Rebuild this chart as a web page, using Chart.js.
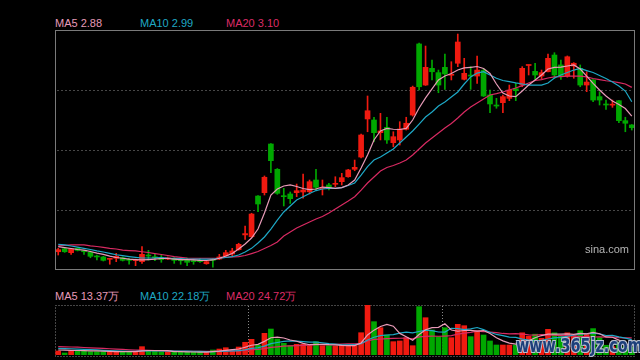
<!DOCTYPE html>
<html>
<head>
<meta charset="utf-8">
<script src="https://cdn.jsdelivr.net/npm/chart.js@4.4.1/dist/chart.umd.min.js"></script>
<style>
  body { margin: 0; background: #000; width: 640px; height: 360px; overflow: hidden; position: relative;
         font-family: Arial, "Liberation Sans", sans-serif; }
  .lg { position: absolute; font-size: 11px; white-space: nowrap; line-height: 12px; }
  #kbox { position: absolute; left: 55px; top: 30px; width: 580px; height: 240px; }
  #vbox { position: absolute; left: 55px; top: 305px; width: 580px; height: 52px; }
  #sina { position: absolute; left: 585px; top: 243px; font-size: 11px; color: #b4b4b4; }
  #wm { position: absolute; left: 516px; top: 333px; font: bold 20px "DejaVu Sans", sans-serif; color: #1d3f7a;
        text-shadow: -1px -1px 0 #b8c0d0, 1px -1px 0 #b8c0d0, -1px 1px 0 #b8c0d0, 1px 1px 0 #b8c0d0;
        transform-origin: 0 0; transform: scaleX(0.72); white-space: nowrap; }
</style>
</head>
<body>
<div class="lg" style="left:55px;top:17px;color:#e79ab8">MA5 2.88</div>
<div class="lg" style="left:140px;top:17px;color:#1fa8c4">MA10 2.99</div>
<div class="lg" style="left:226px;top:17px;color:#dc2c66">MA20 3.10</div>
<div class="lg" style="left:55px;top:290px;color:#e79ab8">MA5 13.37万</div>
<div class="lg" style="left:140px;top:290px;color:#1fa8c4">MA10 22.18万</div>
<div class="lg" style="left:226px;top:290px;color:#dc2c66">MA20 24.72万</div>
<div id="kbox"><canvas id="kline"></canvas></div>
<div id="vbox"><canvas id="vol"></canvas></div>
<div id="sina">sina.com</div>
<div id="wm">www.365jz.com</div>
<script>
// daily candles (price in yuan, volume in 万)
const openPrices = [1.840,1.863,1.833,1.866,1.842,1.836,1.805,1.800,1.782,1.790,
  1.794,1.776,1.772,1.764,1.809,1.796,1.794,1.784,1.790,1.772,
  1.774,1.765,1.774,1.748,1.776,1.784,1.807,1.823,1.856,1.969,
  1.955,2.267,2.293,2.666,2.472,2.264,2.283,2.293,2.298,2.300,
  2.390,2.324,2.352,2.357,2.377,2.415,2.472,2.566,2.858,2.850,
  2.753,2.794,2.676,2.697,2.779,2.888,3.433,3.118,3.246,3.213,
  3.254,3.193,3.285,3.162,3.189,3.187,3.230,3.042,2.958,2.983,
  3.016,3.090,3.118,3.268,3.223,3.187,3.220,3.348,3.272,3.187,
  3.264,3.246,3.118,3.157,3.029,2.966,2.964,2.998,2.845,2.812];
const closePrices = [1.856,1.840,1.863,1.851,1.840,1.805,1.800,1.774,1.786,1.805,
  1.774,1.774,1.776,1.820,1.807,1.794,1.779,1.794,1.774,1.771,
  1.759,1.764,1.764,1.764,1.774,1.800,1.833,1.846,1.897,1.979,
  2.129,2.206,2.411,2.538,2.288,2.262,2.247,2.308,2.313,2.377,
  2.334,2.326,2.326,2.359,2.408,2.467,2.487,2.735,2.921,2.753,
  2.766,2.697,2.722,2.781,2.825,3.101,3.105,3.254,3.220,3.118,
  3.203,3.195,3.448,3.208,3.187,3.233,3.034,2.973,2.957,3.029,
  3.080,3.075,3.246,3.270,3.195,3.213,3.323,3.195,3.187,3.335,
  3.285,3.118,3.141,3.003,3.003,2.965,2.966,2.845,2.825,2.791];
const highPrices = [1.866,1.866,1.866,1.870,1.851,1.846,1.815,1.805,1.790,1.828,
  1.800,1.790,1.784,1.879,1.851,1.820,1.815,1.800,1.794,1.790,
  1.792,1.782,1.790,1.771,1.790,1.820,1.851,1.866,1.905,2.037,
  2.135,2.270,2.421,2.670,2.478,2.326,2.298,2.359,2.436,2.390,
  2.472,2.390,2.365,2.415,2.441,2.472,2.543,2.743,3.034,2.871,
  2.901,2.871,2.760,2.837,2.871,3.110,3.440,3.417,3.310,3.233,
  3.356,3.297,3.509,3.323,3.259,3.341,3.245,3.080,3.016,3.042,
  3.118,3.131,3.259,3.272,3.285,3.233,3.356,3.366,3.310,3.341,
  3.290,3.272,3.220,3.160,3.067,3.003,3.003,3.000,2.871,2.815];
const lowPrices = [1.815,1.835,1.820,1.846,1.820,1.794,1.777,1.769,1.744,1.764,
  1.769,1.744,1.733,1.751,1.776,1.771,1.759,1.779,1.751,1.744,
  1.733,1.744,1.759,1.744,1.721,1.779,1.797,1.810,1.851,1.935,
  1.950,2.147,2.275,2.446,2.280,2.191,2.210,2.262,2.250,2.283,
  2.313,2.275,2.313,2.339,2.352,2.411,2.461,2.560,2.760,2.684,
  2.697,2.671,2.645,2.658,2.773,2.880,3.080,3.115,3.157,3.059,
  3.085,3.157,3.259,3.157,3.085,3.131,3.030,2.906,2.940,2.906,
  2.998,2.998,3.105,3.195,3.162,3.165,3.218,3.170,3.162,3.178,
  3.170,3.105,3.067,2.990,2.965,2.932,2.947,2.829,2.760,2.773];
const ma5 = [1.879,1.872,1.865,1.857,1.853,1.842,1.830,1.820,1.807,1.796,
  1.790,1.784,1.780,1.777,1.780,1.784,1.788,1.788,1.784,1.780,
  1.779,1.777,1.774,1.773,1.777,1.790,1.807,1.826,1.861,1.899,
  1.945,2.014,2.137,2.275,2.321,2.344,2.352,2.340,2.325,2.317,
  2.321,2.336,2.332,2.326,2.332,2.352,2.390,2.482,2.582,2.697,
  2.766,2.785,2.779,2.777,2.786,2.850,2.942,3.019,3.088,3.157,
  3.187,3.207,3.233,3.249,3.254,3.260,3.245,3.207,3.126,3.057,
  3.034,3.029,3.072,3.118,3.157,3.195,3.241,3.253,3.256,3.264,
  3.272,3.241,3.187,3.131,3.080,3.034,2.996,2.969,2.938,2.880];
const ma10 = [1.897,1.892,1.884,1.876,1.866,1.857,1.846,1.838,1.828,1.817,
  1.810,1.803,1.797,1.792,1.792,1.793,1.796,1.792,1.790,1.788,
  1.784,1.784,1.784,1.784,1.784,1.790,1.796,1.803,1.815,1.838,
  1.866,1.907,1.953,2.014,2.083,2.145,2.191,2.237,2.262,2.286,
  2.309,2.321,2.326,2.326,2.332,2.348,2.367,2.428,2.492,2.543,
  2.566,2.597,2.628,2.674,2.720,2.766,2.819,2.873,2.911,2.957,
  2.988,3.026,3.065,3.126,3.180,3.210,3.220,3.195,3.170,3.153,
  3.144,3.134,3.126,3.118,3.118,3.118,3.134,3.172,3.195,3.214,
  3.233,3.245,3.229,3.214,3.191,3.168,3.141,3.111,3.072,2.990];
const ma20 = [1.886,1.889,1.892,1.892,1.892,1.885,1.880,1.874,1.866,1.861,
  1.853,1.849,1.846,1.840,1.834,1.826,1.819,1.811,1.803,1.797,
  1.792,1.790,1.790,1.790,1.790,1.792,1.796,1.800,1.803,1.811,
  1.826,1.842,1.865,1.888,1.915,1.961,1.991,2.022,2.045,2.068,
  2.091,2.110,2.137,2.168,2.198,2.229,2.262,2.313,2.367,2.413,
  2.459,2.486,2.501,2.520,2.543,2.582,2.628,2.674,2.712,2.750,
  2.789,2.823,2.865,2.911,2.950,2.980,3.011,3.042,3.052,3.065,
  3.080,3.095,3.114,3.134,3.153,3.160,3.172,3.180,3.183,3.187,
  3.187,3.187,3.180,3.168,3.160,3.151,3.145,3.137,3.126,3.100];
const volumes = [5.8,2.9,5.8,5.8,5.8,4.8,4.8,4.8,4.8,4.8,
  4.8,4.8,4.8,12.0,5.8,5.8,4.8,4.8,4.8,4.8,
  3.9,3.9,3.9,4.3,7.2,8.6,10.5,7.2,11.5,18.3,
  22.6,14.4,31.2,37.4,23.0,16.8,13.4,15.4,15.4,13.4,
  19.2,13.4,13.4,13.0,14.0,13.4,13.4,32.1,72.0,48.0,
  39.3,28.8,19.2,20.2,24.9,13.4,69.6,53.7,36.0,26.4,
  39.3,24.9,44.2,42.2,26.4,34.6,28.8,20.2,14.4,14.4,
  14.4,14.4,32,27,30,24,37,32,27,32,
  28,35,30,38,25,14,12,18,12,11];
const volMa5 = [7.2,7.0,6.8,6.5,6.3,6.0,5.8,5.5,5.3,5.0,
  5.0,5.0,5.0,6.0,6.5,6.5,6.5,6.2,5.0,4.8,
  4.5,4.3,4.2,4.2,4.8,5.5,6.8,7.6,8.6,11.2,
  14.0,15.3,19.6,24.8,25.7,24.5,21.6,19.8,16.8,14.8,
  15.4,15.4,14.9,14.7,14.0,13.6,13.6,17.3,28.9,35.8,
  41.0,44.0,41.5,31.1,26.4,21.3,29.5,36.3,39.5,39.8,
  45.0,36.0,34.2,35.3,35.4,34.3,35.2,31.0,24.9,20.3,
  17.2,15.6,19.2,20.3,24.8,28.0,30.0,30.0,30.0,30.4,
  29.6,31.0,30.6,32.6,30.6,26.0,25.6,21.4,16.2,13.37];
const volMa10 = [9.6,9.3,9.0,8.6,8.2,7.8,7.3,6.8,6.3,6.0,
  5.6,5.4,5.2,5.8,5.8,5.8,5.8,5.8,5.7,5.6,
  5.5,5.4,5.3,5.0,5.0,5.2,5.6,5.8,6.3,7.6,
  9.5,10.4,12.8,16.3,18.0,19.7,20.4,19.9,19.3,18.6,
  18.7,17.5,16.5,15.8,14.7,14.6,14.8,16.3,21.5,25.6,
  27.8,28.8,29.4,31.6,33.0,31.9,33.8,35.9,35.0,33.1,
  33.0,38.5,37.9,36.5,37.6,39.6,36.6,32.7,29.6,27.8,
  25.7,25.4,22.9,21.6,20.5,21.0,23.0,24.6,25.4,27.0,
  28.8,30.5,30.3,31.3,30.3,28.1,28.3,26.0,24.4,22.18];
const volMa20 = [12.0,11.8,11.5,11.2,10.8,10.4,10.0,9.5,9.0,8.5,
  8.0,7.5,7.0,6.9,6.6,6.3,6.0,5.7,5.5,5.4,
  5.4,5.4,5.3,5.2,5.4,5.5,5.7,5.8,6.0,6.7,
  7.6,8.1,9.3,11.0,11.8,12.7,13.2,13.6,14.0,14.3,
  15.0,15.0,15.0,15.4,15.7,16.0,16.1,16.8,20.2,22.4,
  23.0,23.7,23.8,24.1,24.4,23.3,26.0,26.7,27.1,27.0,
  27.3,27.8,30.0,31.6,32.6,34.5,33.8,32.8,32.3,31.0,
  30.3,30.8,30.2,29.1,28.5,29.3,28.6,28.5,28.0,27.6,
  27.4,26.4,26.6,25.9,26.1,25.8,25.9,25.0,24.8,24.72];
const priceGridTicks = [2.16, 2.62, 3.08];
const volumeMarkers = [30, 60];

const UP = '#f01a10';
const DOWN = '#00a800';
const C_MA5 = '#e89bb8';
const C_MA10 = '#1ea8c6';
const C_MA20 = '#d82a62';

const labels = openPrices.map((_, i) => i);
const candleColors = openPrices.map((o, i) => closePrices[i] >= o ? UP : DOWN);
const wicks = lowPrices.map((l, i) => [l, highPrices[i]]);
const bodies = openPrices.map((o, i) => [Math.min(o, closePrices[i]), Math.max(o, closePrices[i])]);

function maLine(label, data, color) {
  return { type: 'line', label, data, borderColor: color, borderWidth: 1.2, pointRadius: 0, tension: 0, order: 0 };
}

// frame + dashed horizontal grid for the price panel
const priceFrame = {
  id: 'priceFrame',
  beforeDatasetsDraw(chart) {
    const { ctx, chartArea: a, scales } = chart;
    ctx.save();
    ctx.strokeStyle = '#474747';
    ctx.lineWidth = 1;
    ctx.setLineDash([2, 2]);
    priceGridTicks.forEach((v) => {
      const y = Math.round(scales.y.getPixelForValue(v)) + 0.5;
      ctx.beginPath();
      ctx.moveTo(a.left + 2, y);
      ctx.lineTo(a.right - 2, y);
      ctx.stroke();
    });
    ctx.restore();
  },
  afterDraw(chart) {
    const { ctx, width, height } = chart;
    ctx.save();
    ctx.strokeStyle = '#7a7a7a';
    ctx.lineWidth = 1;
    ctx.strokeRect(0.5, 0.5, width - 1, height - 1);
    ctx.restore();
  },
};

const volFrame = {
  id: 'volFrame',
  beforeDatasetsDraw(chart) {
    const { ctx, width, height, scales } = chart;
    ctx.save();
    ctx.strokeStyle = '#8a8a8a';
    ctx.lineWidth = 1;
    ctx.setLineDash([1, 2]);
    ctx.strokeRect(0.5, 0.5, width - 1, height - 1);
    volumeMarkers.forEach((i) => {
      const x = Math.round((scales.x.getPixelForValue(i) + scales.x.getPixelForValue(i - 1)) / 2) + 0.5;
      ctx.beginPath();
      ctx.moveTo(x, 1);
      ctx.lineTo(x, height - 1);
      ctx.stroke();
    });
    ctx.restore();
  },
};

const hiddenX = { type: 'category', display: false, offset: true };

new Chart(document.getElementById('kline'), {
  type: 'bar',
  data: {
    labels,
    datasets: [
      { label: 'wick', data: wicks, backgroundColor: candleColors, barThickness: 1, grouped: false, order: 2 },
      { label: 'body', data: bodies, backgroundColor: candleColors, barThickness: 5, minBarLength: 1, grouped: false, order: 1 },
      maLine('MA5', ma5, C_MA5),
      maLine('MA10', ma10, C_MA10),
      maLine('MA20', ma20, C_MA20),
    ],
  },
  options: {
    responsive: true,
    maintainAspectRatio: false,
    animation: false,
    layout: { padding: 0 },
    plugins: { legend: { display: false }, tooltip: { enabled: false } },
    scales: {
      x: hiddenX,
      y: { display: false, min: 1.70, max: 3.54 },
    },
  },
  plugins: [priceFrame],
});

new Chart(document.getElementById('vol'), {
  type: 'bar',
  data: {
    labels,
    datasets: [
      { label: 'volume', data: volumes, backgroundColor: candleColors, barThickness: 5, grouped: false, order: 1 },
      maLine('MA5', volMa5, C_MA5),
      maLine('MA10', volMa10, C_MA10),
      maLine('MA20', volMa20, C_MA20),
    ],
  },
  options: {
    responsive: true,
    maintainAspectRatio: false,
    animation: false,
    layout: { padding: { top: 0, bottom: 2 } },
    plugins: { legend: { display: false }, tooltip: { enabled: false } },
    scales: {
      x: hiddenX,
      y: { display: false, min: 0, max: 72 },
    },
  },
  plugins: [volFrame],
});
</script>
</body>
</html>
